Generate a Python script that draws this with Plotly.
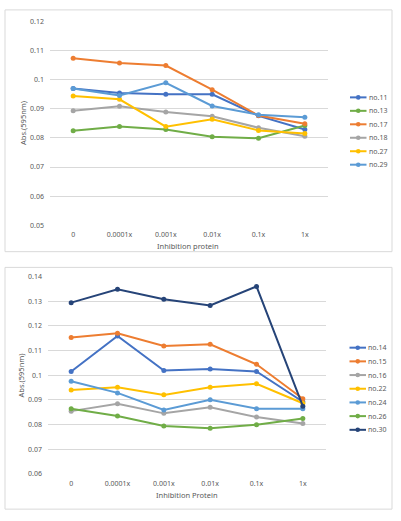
import plotly.graph_objects as go

W, H = 401, 521

categories = ["0", "0.0001x", "0.001x", "0.01x", "0.1x", "1x"]

# Top chart
top_names = ["no.11", "no.13", "no.17", "no.18", "no.27", "no.29"]
no11 = [0.0970, 0.0955, 0.0950, 0.0950, 0.0876, 0.0829]
no13 = [0.0825, 0.0839, 0.0829, 0.0804, 0.0799, 0.0843]
no17 = [0.1074, 0.1058, 0.1049, 0.0966, 0.0877, 0.0849]
no18 = [0.0894, 0.0909, 0.0889, 0.0875, 0.0835, 0.0806]
no27 = [0.0944, 0.0933, 0.0839, 0.0864, 0.0826, 0.0815]
no29 = [0.0970, 0.0946, 0.0990, 0.0910, 0.0880, 0.0871]
top_values = [no11, no13, no17, no18, no27, no29]
top_colors = ["#4472C4", "#70AD47", "#ED7D31", "#A5A5A5", "#FFC000", "#5B9BD5"]
top_yticks = [0.05, 0.06, 0.07, 0.08, 0.09, 0.1, 0.11, 0.12]
top_yticktext = ["0.05", "0.06", "0.07", "0.08", "0.09", "0.1", "0.11", "0.12"]

# Bottom chart
bot_names = ["no.14", "no.15", "no.16", "no.22", "no.24", "no.26", "no.30"]
no14 = [0.1015, 0.1159, 0.1019, 0.1025, 0.1015, 0.0892]
no15 = [0.1153, 0.1170, 0.1118, 0.1125, 0.1044, 0.0904]
no16 = [0.0854, 0.0884, 0.0845, 0.0870, 0.0830, 0.0804]
no22 = [0.0940, 0.0951, 0.0920, 0.0951, 0.0965, 0.0886]
no24 = [0.0975, 0.0928, 0.0859, 0.0900, 0.0864, 0.0864]
no26 = [0.0864, 0.0834, 0.0794, 0.0785, 0.0799, 0.0824]
no30 = [0.1294, 0.1348, 0.1308, 0.1283, 0.1360, 0.0874]
bot_values = [no14, no15, no16, no22, no24, no26, no30]
bot_colors = ["#4472C4", "#ED7D31", "#A5A5A5", "#FFC000", "#5B9BD5", "#70AD47", "#264478"]
bot_yticks = [0.06, 0.07, 0.08, 0.09, 0.1, 0.11, 0.12, 0.13, 0.14]
bot_yticktext = ["0.06", "0.07", "0.08", "0.09", "0.1", "0.11", "0.12", "0.13", "0.14"]

FONT = "Noto Sans"
TXT = "#595959"
GRID = "#D9D9D9"


def px(x):
    return x / W


def py(y):
    return 1 - y / H


fig = go.Figure()

for name, vals, col in zip(top_names, top_values, top_colors):
    fig.add_trace(go.Scatter(x=categories, y=vals, name=name, mode="lines+markers",
                             line=dict(color=col, width=2), marker=dict(color=col, size=5),
                             xaxis="x", yaxis="y", showlegend=False))

for name, vals, col in zip(bot_names, bot_values, bot_colors):
    fig.add_trace(go.Scatter(x=categories, y=vals, name=name, mode="lines+markers",
                             line=dict(color=col, width=2), marker=dict(color=col, size=5),
                             xaxis="x2", yaxis="y2", showlegend=False))

xcommon = dict(type="category", range=[-0.5, 5.5], showgrid=False, zeroline=False,
               showline=False, ticks="", tickfont=dict(family=FONT, size=7, color=TXT),
               ticklabelstandoff=4, fixedrange=True)
ycommon = dict(showgrid=True, gridcolor=GRID, gridwidth=1, zeroline=False, showline=False,
               ticks="", tickfont=dict(family=FONT, size=7, color=TXT), ticklabelstandoff=5)

shapes = [
    dict(type="rect", xref="paper", yref="paper", x0=px(5), x1=px(392), y0=py(251), y1=py(5),
         line=dict(color=GRID, width=1), fillcolor="rgba(0,0,0,0)", layer="below"),
    dict(type="rect", xref="paper", yref="paper", x0=px(5), x1=px(392), y0=py(513), y1=py(267),
         line=dict(color=GRID, width=1), fillcolor="rgba(0,0,0,0)", layer="below"),
]
annotations = [
    dict(text="Abs.(595nm)", xref="paper", yref="paper", x=px(23), y=py(120), showarrow=False,
         xanchor="center", yanchor="middle",
         textangle=-90, font=dict(family=FONT, size=7.5, color=TXT)),
    dict(text="Abs.(595nm)", xref="paper", yref="paper", x=px(21), y=py(377), showarrow=False,
         xanchor="center", yanchor="middle",
         textangle=-90, font=dict(family=FONT, size=7.5, color=TXT)),
    dict(text="Inhibition protein", xref="paper", yref="paper", x=px(188), y=py(245), showarrow=False,
         xanchor="center", yanchor="middle", font=dict(family=FONT, size=7.5, color=TXT)),
    dict(text="Inhibition Protein", xref="paper", yref="paper", x=px(187), y=py(499), showarrow=False,
         xanchor="center", yanchor="middle", font=dict(family=FONT, size=7.5, color=TXT)),
]


def add_legend(names, colors, y0, step, xl0, xl1, xt):
    for i, (n, c) in enumerate(zip(names, colors)):
        yy = y0 + i * step
        shapes.append(dict(type="line", xref="paper", yref="paper", x0=px(xl0), x1=px(xl1),
                           y0=py(yy), y1=py(yy), line=dict(color=c, width=2)))
        xm = (xl0 + xl1) / 2
        shapes.append(dict(type="circle", xref="paper", yref="paper", x0=px(xm - 2.3), x1=px(xm + 2.3),
                           y0=py(yy + 2.3), y1=py(yy - 2.3), line=dict(color=c, width=0), fillcolor=c))
        annotations.append(dict(text=n, xref="paper", yref="paper", x=px(xt), y=py(yy),
                                xanchor="left", yanchor="middle", showarrow=False,
                                font=dict(family=FONT, size=7, color=TXT)))


add_legend(top_names, top_colors, 94, 13.7, 350, 366.5, 366.5)
add_legend(bot_names, bot_colors, 348.7, 13.93, 349.5, 366, 366)

fig.update_layout(
    width=W, height=H,
    margin=dict(l=0, r=0, t=0, b=0),
    paper_bgcolor="white", plot_bgcolor="white",
    showlegend=False,
    xaxis=dict(domain=[px(50), px(328)], anchor="y", **xcommon),
    yaxis=dict(domain=[py(224), py(17)], anchor="x", range=[0.05, 0.12],
               tickvals=top_yticks, ticktext=top_yticktext, **ycommon),
    xaxis2=dict(domain=[px(48), px(326)], anchor="y2", **xcommon),
    yaxis2=dict(domain=[py(477), py(276.3)], anchor="x2", range=[0.06, 0.14],
                tickvals=bot_yticks, ticktext=bot_yticktext, **ycommon),
    shapes=shapes,
    annotations=annotations,
)

fig.write_html("out.html", config={"displayModeBar": False},
               post_script="document.body.style.margin='0';document.body.style.padding='0';")
